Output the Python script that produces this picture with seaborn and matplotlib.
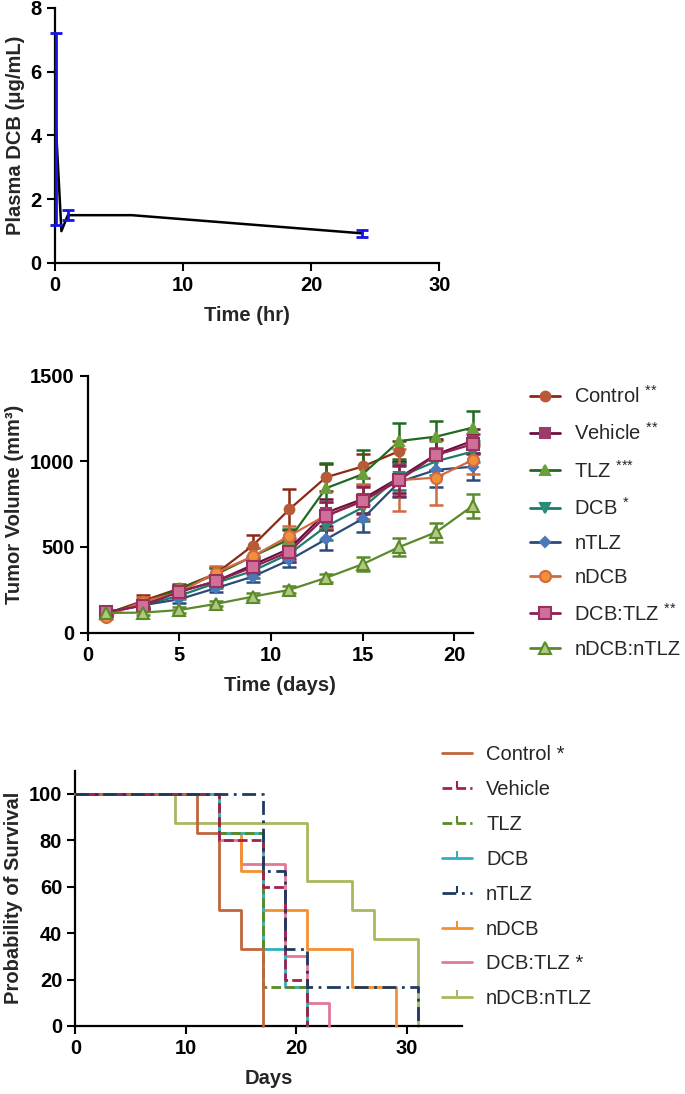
import numpy as np
import pandas as pd
import matplotlib
matplotlib.use("Agg")
import matplotlib.pyplot as plt
from matplotlib.lines import Line2D
import seaborn as sns

sns.set_theme(style="ticks")
plt.rcParams['font.family'] = ['Liberation Sans', 'DejaVu Sans']
plt.rcParams['mathtext.fontset'] = 'custom'
plt.rcParams['mathtext.rm'] = 'Liberation Sans'
plt.rcParams['mathtext.default'] = 'regular'
plt.rcParams['legend.numpoints'] = 1

# ---------------- Data ----------------
# Panel A: plasma DCB
pk_time = [0.083, 0.5, 1, 6, 24]
pk_mean = [4.2, 1.0, 1.5, 1.5, 0.93]
pk_sd = [3.0, 0.0, 0.15, 0.0, 0.1]

# Panel B: tumor volume
days = [1, 3, 5, 7, 9, 11, 13, 15, 17, 19, 21]
groups = ["Control", "Vehicle", "TLZ", "DCB", "nTLZ", "nDCB", "DCB:TLZ", "nDCB:nTLZ"]
tumor_labels = ["Control $^{{*}{*}}$", "Vehicle $^{{*}{*}}$", "TLZ $^{{*}{*}{*}}$", "DCB $^{{*}}$",
                "nTLZ", "nDCB", "DCB:TLZ $^{{*}{*}}$", "nDCB:nTLZ"]
control = [110, 185, 258, 345, 508, 720, 907, 970, 1060]
control_err = [15, 35, 25, 40, 60, 120, 80, 70, 60]
vehicle = [115, 165, 240, 300, 395, 490, 700, 780, 905, 1040, 1120]
vehicle_err = [15, 20, 25, 30, 40, 60, 80, 80, 90, 90, 70]
tlz = [115, 170, 255, 340, 445, 545, 843, 925, 1119, 1144, 1197]
tlz_err = [15, 20, 25, 40, 50, 60, 145, 140, 107, 94, 97]
dcb = [118, 160, 215, 290, 360, 460, 620, 730, 910, 1000, 1057]
dcb_err = [15, 20, 20, 30, 40, 50, 80, 80, 80, 80, 60]
ntlz = [115, 160, 195, 260, 327, 424, 545, 665, 880, 950, 969]
ntlz_err = [15, 20, 20, 25, 30, 40, 60, 80, 90, 100, 80]
ndcb = [93, 180, 235, 350, 445, 565, 685, 765, 890, 905, 1008]
ndcb_err = [15, 30, 30, 40, 50, 60, 80, 100, 180, 160, 80]
dcbtlz = [120, 158, 238, 300, 382, 473, 680, 770, 890, 1037, 1100]
dcbtlz_err = [15, 20, 25, 30, 40, 60, 80, 80, 90, 90, 60]
ndcbntlz = [115, 117, 132, 168, 210, 250, 320, 400, 500, 586, 740]
ndcbntlz_err = [15, 15, 15, 15, 20, 20, 25, 40, 50, 55, 72]
tumor_means = [control, vehicle, tlz, dcb, ntlz, ndcb, dcbtlz, ndcbntlz]
tumor_errs = [control_err, vehicle_err, tlz_err, dcb_err, ntlz_err, ndcb_err, dcbtlz_err, ndcbntlz_err]

# Panel C: survival (Kaplan-Meier step points)
surv_labels = ["Control *", "Vehicle", "TLZ", "DCB", "nTLZ", "nDCB", "DCB:TLZ *", "nDCB:nTLZ"]
surv_t = {
    "Control":   [0, 11, 13, 15, 17],
    "Vehicle":   [0, 13, 17, 19, 21],
    "TLZ":       [0, 13, 17, 21],
    "DCB":       [0, 13, 17, 19, 21],
    "nTLZ":      [0, 17, 19, 21, 31],
    "nDCB":      [0, 13, 15, 17, 21, 25, 29],
    "DCB:TLZ":   [0, 13, 15, 19, 21, 23],
    "nDCB:nTLZ": [0, 9, 21, 25, 27, 31],
}
surv_p = {
    "Control":   [100, 83.3, 50, 33.3, 0],
    "Vehicle":   [100, 80, 60, 20, 0],
    "TLZ":       [100, 83.3, 16.7, 0],
    "DCB":       [100, 83.3, 33.3, 16.7, 0],
    "nTLZ":      [100, 66.7, 33.3, 16.7, 0],
    "nDCB":      [100, 83.3, 66.7, 50, 33.3, 16.7, 0],
    "DCB:TLZ":   [100, 80, 70, 30, 10, 0],
    "nDCB:nTLZ": [100, 87.5, 62.5, 50, 37.5, 0],
}

# ---------------- Styles ----------------
t_line = ["#8B2A12", "#6A1040", "#1E6A1E", "#1E7A6A", "#2A4A7A", "#D06A40", "#8A2050", "#5A8A2A"]
t_face = ["#B85A3A", "#9C3A6A", "#6AA03A", "#2A8C78", "#4A78B8", "#F0903A", "#D07098", "#B0C880"]
t_edge = ["#B85A3A", "#9C3A6A", "#6AA03A", "#2A8C78", "#4A78B8", "#D06A40", "#9A3060", "#5A8A2A"]
t_mark = ["o", "s", "^", "v", "D", "o", "s", "^"]
t_ms = [7, 7, 7, 7, 5.5, 8, 8, 8]

s_color = ["#C0653C", "#A02050", "#5A8A20", "#30B0C0", "#1F3A60", "#F59030", "#E07898", "#A8B860"]
s_ls = ["-", (0, (3.5, 1.5)), (0, (3.5, 1.5)), "-", (0, (5, 2, 1, 2)), "-", "-", "-"]
s_tick = [False, True, True, True, True, True, False, True]
s_z = [5, 6, 4, 3, 7, 2, 1, 0]

lab_kw = dict(fontsize=14.5, fontweight="bold")

def style_axes(ax):
    sns.despine(ax=ax)
    for s in ["left", "bottom"]:
        ax.spines[s].set_linewidth(1.6)
        ax.spines[s].set_color("black")
    ax.tick_params(axis="both", direction="out", length=6, width=1.5, colors="black",
                   labelsize=14.5)
    for lab in ax.get_xticklabels() + ax.get_yticklabels():
        lab.set_fontweight("bold")
        lab.set_fontsize(14.5)

fig = plt.figure(figsize=(6.85, 10.94), dpi=100)

# ---------------- Panel A ----------------
ax1 = fig.add_axes([0.0803, 0.7596, 0.561, 0.2331])
pk = pd.DataFrame({"time": pk_time, "conc": pk_mean, "sd": pk_sd})
sns.lineplot(data=pk, x="time", y="conc", ax=ax1, color="black", lw=1.8, clip_on=False)
pke = pk[pk["sd"] > 0]
ax1.errorbar(pke["time"], pke["conc"], yerr=pke["sd"], fmt="none", ecolor="#1414E6",
             elinewidth=2, capsize=4, capthick=2, clip_on=False, zorder=3)
ax1.set_xlim(0, 30)
ax1.set_ylim(0, 8)
ax1.set_xticks([0, 10, 20, 30])
ax1.set_yticks([0, 2, 4, 6, 8])
ax1.set_xlabel("Time (hr)", labelpad=8, **lab_kw)
ax1.set_ylabel("Plasma DCB (μg/mL)", labelpad=4, **lab_kw)
style_axes(ax1)

# ---------------- Panel B ----------------
ax2 = fig.add_axes([0.128, 0.4217, 0.562, 0.2349])
handles = []
for i, g in enumerate(groups):
    m = tumor_means[i]
    e = tumor_errs[i]
    d = days[:len(m)]
    df = pd.DataFrame({"day": d, "vol": m, "err": e})
    ax2.errorbar(df["day"], df["vol"], yerr=df["err"], fmt="none", ecolor=t_line[i],
                 elinewidth=1.8, capsize=5, capthick=1.8, clip_on=False, zorder=2 + i * 0.1)
    sns.lineplot(data=df, x="day", y="vol", ax=ax2, color=t_line[i], lw=1.6,
                 marker=t_mark[i], markersize=t_ms[i], markerfacecolor=t_face[i],
                 markeredgecolor=t_edge[i], markeredgewidth=1.5, clip_on=False,
                 zorder=3 + i * 0.1)
    handles.append(Line2D([], [], color=t_line[i], lw=2, marker=t_mark[i],
                          markersize=t_ms[i], markerfacecolor=t_face[i],
                          markeredgecolor=t_edge[i], markeredgewidth=1.5))
ax2.set_xlim(0, 21)
ax2.set_ylim(0, 1500)
ax2.set_xticks([0, 5, 10, 15, 20])
ax2.set_yticks([0, 500, 1000, 1500])
ax2.set_xlabel("Time (days)", labelpad=8, **lab_kw)
ax2.set_ylabel("Tumor Volume (mm³)", labelpad=4, **lab_kw)
style_axes(ax2)
if ax2.get_legend() is not None:
    ax2.get_legend().remove()
fig.legend(handles, tumor_labels, loc="upper left", bbox_to_anchor=(0.774, 0.648),
           bbox_transform=fig.transFigure, frameon=False, fontsize=14.5,
           handlelength=1.5, handletextpad=0.7, labelspacing=0.76, borderpad=0,
           borderaxespad=0)

# ---------------- Panel C ----------------
ax3 = fig.add_axes([0.110, 0.0622, 0.5645, 0.2333])
s_handles = []
for i, g in enumerate(groups):
    df = pd.DataFrame({"day": surv_t[g], "p": surv_p[g]})
    sns.lineplot(data=df, x="day", y="p", ax=ax3, color=s_color[i], lw=2,
                 linestyle=s_ls[i], drawstyle="steps-post", zorder=2 + s_z[i],
                 clip_on=False)
    s_handles.append(Line2D([], [], color=s_color[i], lw=2, linestyle=s_ls[i],
                            marker=(2 if s_tick[i] else None), markersize=5,
                            markeredgewidth=1.5))
ax3.set_xlim(0, 35)
ax3.set_ylim(0, 110)
ax3.set_xticks([0, 10, 20, 30])
ax3.set_yticks([0, 20, 40, 60, 80, 100])
ax3.set_xlabel("Days", labelpad=8, **lab_kw)
ax3.set_ylabel("Probability of Survival", labelpad=4, **lab_kw)
style_axes(ax3)
if ax3.get_legend() is not None:
    ax3.get_legend().remove()
fig.legend(s_handles, surv_labels, loc="upper left", bbox_to_anchor=(0.645, 0.319),
           bbox_transform=fig.transFigure, frameon=False, fontsize=14.5,
           handlelength=1.5, handletextpad=0.7, labelspacing=0.79, borderpad=0,
           borderaxespad=0)

fig.savefig("out.png", dpi=100)
